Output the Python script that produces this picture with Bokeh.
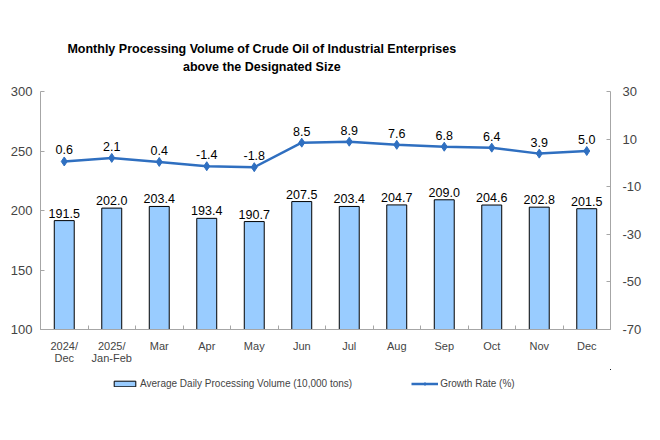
from bokeh.plotting import figure
from bokeh.layouts import column
from bokeh.models import Range1d, LinearAxis, FixedTicker, Legend, LegendItem, ColumnDataSource
from bokeh.embed import file_html
from bokeh.resources import INLINE

categories = ["2024/\nDec", "2025/\nJan-Feb", "Mar", "Apr", "May", "Jun", "Jul", "Aug", "Sep", "Oct", "Nov", "Dec"]
volume = [191.5, 202.0, 203.4, 193.4, 190.7, 207.5, 203.4, 204.7, 209.0, 204.6, 202.8, 201.5]
growth = [0.6, 2.1, 0.4, -1.4, -1.8, 8.5, 8.9, 7.6, 6.8, 6.4, 3.9, 5.0]
left_ticks = [100, 150, 200, 250, 300]
right_ticks = [-70, -50, -30, -10, 10, 30]
title_lines = ["Monthly Processing Volume of Crude Oil of Industrial Enterprises",
               "above the Designated Size"]
legend_labels = ["Average Daily Processing Volume (10,000 tons)", "Growth Rate (%)"]

FONT = "'Liberation Sans', Arial, sans-serif"
BAR_COLOR = "#99CCFF"
LINE_COLOR = "#2F6FC0"
AXIS_COLOR = "#A6A6A6"

n = len(categories)
xs = [i + 0.5 for i in range(n)]
src = ColumnDataSource(dict(
    x=xs, vol=volume, gr=growth,
    vol_lab=[f"{v:.1f}" for v in volume],
    gr_lab=[f"{g:.1f}" for g in growth],
))

# ---- title strip ----
TH = 83
pt = figure(width=644, height=TH, output_backend="svg", toolbar_location=None,
            x_range=Range1d(0, 644), y_range=Range1d(TH, 0), min_border=0,
            x_axis_location=None, y_axis_location=None)
pt.grid.visible = False
pt.outline_line_color = None
pt.text(x=[250, 250], y=[48, 66], text=title_lines, text_align="center", text_baseline="middle",
        text_font={"value": FONT}, text_font_size="12.5px", text_font_style="bold",
        text_color="black")

# ---- main chart ----
p = figure(frame_width=570, frame_height=238, output_backend="svg", toolbar_location=None,
           x_range=Range1d(0, n), y_range=Range1d(left_ticks[0], left_ticks[-1]),
           min_border_left=40, min_border_right=34, min_border_top=8, min_border_bottom=40)
p.extra_y_ranges = {"g": Range1d(right_ticks[0], right_ticks[-1])}
p.outline_line_color = None
p.grid.visible = False

bars = p.vbar(x="x", top="vol", bottom=left_ticks[0], width=0.42, source=src,
              fill_color=BAR_COLOR, line_color="black", line_width=1)
p.text(x="x", y="vol", text="vol_lab", source=src, text_align="center",
       text_baseline="bottom", y_offset=-3, text_font_size="12.5px",
       text_font={"value": FONT}, text_color="black")

ln = p.line(x="x", y="gr", source=src, y_range_name="g", line_color=LINE_COLOR, line_width=2.5)
mk = p.scatter(x="x", y="gr", source=src, y_range_name="g", marker="diamond", size=9,
               fill_color=LINE_COLOR, line_color=LINE_COLOR)
p.text(x="x", y="gr", text="gr_lab", source=src, y_range_name="g", text_align="center",
       text_baseline="bottom", y_offset=-7, text_font_size="12.5px",
       text_font={"value": FONT}, text_color="black")

xa = p.xaxis[0]
xa.ticker = FixedTicker(ticks=xs, minor_ticks=list(range(n + 1)))
xa.major_label_overrides = {x: c for x, c in zip(xs, categories)}
xa.major_tick_line_color = None
xa.minor_tick_in = 4
xa.minor_tick_out = 0
xa.minor_tick_line_color = AXIS_COLOR
xa.axis_line_color = AXIS_COLOR
xa.major_label_text_font = FONT
xa.major_label_text_font_size = "11px"
xa.major_label_text_line_height = 1.05
xa.major_label_standoff = 4

ya = p.yaxis[0]
ya.ticker = FixedTicker(ticks=left_ticks)
ya.axis_line_color = AXIS_COLOR
ya.major_tick_line_color = AXIS_COLOR
ya.major_tick_in = 4
ya.major_tick_out = 0
ya.minor_tick_line_color = None
ya.major_label_text_font = FONT
ya.major_label_text_font_size = "13px"
ya.major_label_standoff = 8

ra = LinearAxis(y_range_name="g", ticker=FixedTicker(ticks=right_ticks))
ra.major_label_overrides = {t: str(t) for t in right_ticks}
ra.axis_line_color = AXIS_COLOR
ra.major_tick_line_color = AXIS_COLOR
ra.major_tick_in = 4
ra.major_tick_out = 0
ra.minor_tick_line_color = None
ra.major_label_text_font = FONT
ra.major_label_text_font_size = "13px"
ra.major_label_standoff = 12
p.add_layout(ra, "right")

# ---- legend strip (same glyph styles; its data lies outside the strip's ranges) ----
p2 = figure(width=644, height=40, output_backend="svg", toolbar_location=None,
            x_range=Range1d(-100, -99), y_range=Range1d(-100, -99), min_border=0,
            x_axis_location=None, y_axis_location=None)
p2.grid.visible = False
p2.outline_line_color = None
lb = p2.vbar(x="x", top="vol", width=0.42, source=src, fill_color=BAR_COLOR,
             line_color="black", line_width=1)
ll = p2.line(x="x", y="gr", source=src, line_color=LINE_COLOR, line_width=2.5)
lm = p2.scatter(x="x", y="gr", source=src, marker="diamond", size=9,
                fill_color=LINE_COLOR, line_color=LINE_COLOR)

legend = Legend(items=[
    LegendItem(label=legend_labels[0], renderers=[lb]),
    LegendItem(label=legend_labels[1], renderers=[ll, lm]),
], orientation="horizontal", location=(71, 20), padding=2, margin=0, spacing=59,
   glyph_width=27, glyph_height=7, label_standoff=2, label_height=12,
   label_text_font=FONT, label_text_font_size="10px",
   border_line_color=None, background_fill_alpha=0)
p2.add_layout(legend, "center")

open("out.html", "w").write(file_html(column(pt, p, p2, spacing=0), INLINE))
